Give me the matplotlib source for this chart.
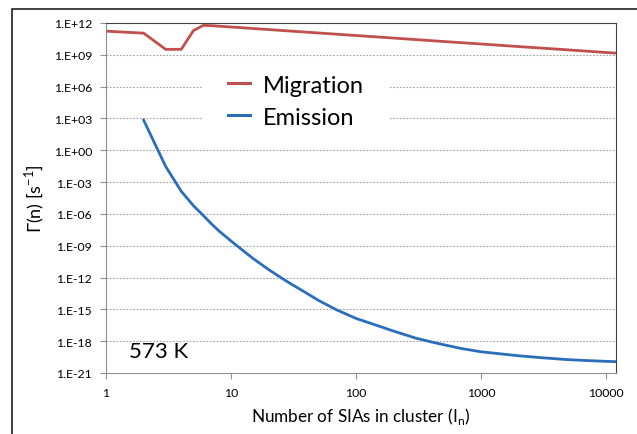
import matplotlib.pyplot as plt
from matplotlib.patches import Rectangle
from matplotlib.ticker import FixedLocator, NullLocator

plt.rcParams['font.family'] = ['Lato', 'DejaVu Sans']

# cluster size n and rates
mig_n = [1, 2, 3, 4, 5, 6, 7, 8, 10, 20, 50, 100, 200, 500, 1000, 2000, 5000, 10000, 12000]
mig_rate = [1.7e11, 1.1e11, 3.3e9, 3.3e9, 1.9e11, 6.0e11, 5.6e11, 5.0e11, 4.2e11,
            2.4e11, 1.15e11, 6.6e10, 3.8e10, 1.8e10, 1.05e10, 6.0e9, 2.9e9, 1.66e9, 1.45e9]

emi_n = [2, 3, 4, 5, 6, 7, 8, 9, 10, 12, 15, 20, 25, 30, 40, 50, 70, 100, 150, 200,
         300, 400, 500, 700, 1000, 2000, 3000, 5000, 7000, 10000, 12000]
emi_rate = [7.0e2, 3.0e-2, 1.35e-4, 6.0e-6, 7.1e-7, 1.1e-7, 2.5e-8, 7.9e-9, 2.8e-9, 5.0e-10,
            6.3e-11, 5.6e-12, 1.0e-12, 2.6e-13, 3.5e-14, 7.1e-15, 8.9e-16, 1.4e-16, 2.8e-17,
            8.9e-18, 1.95e-18, 8.5e-19, 4.7e-19, 2.0e-19, 1.0e-19, 4.2e-20, 2.8e-20,
            1.8e-20, 1.5e-20, 1.26e-20, 1.17e-20]

ytick_vals = [1e-21, 1e-18, 1e-15, 1e-12, 1e-9, 1e-6, 1e-3, 1e0, 1e3, 1e6, 1e9, 1e12]
ytick_labels = ['1.E-21', '1.E-18', '1.E-15', '1.E-12', '1.E-09', '1.E-06',
                '1.E-03', '1.E+00', '1.E+03', '1.E+06', '1.E+09', '1.E+12']
xtick_vals = [1, 10, 100, 1000, 10000]
xtick_labels = ['1', '10', '100', '1000', '10000']

series_labels = ['Migration', 'Emission']
series_colors = ['#c0504d', '#2a6ebb']

fig = plt.figure(figsize=(6.37, 4.35), dpi=100)
ax = fig.add_axes([106 / 637, 1 - 374 / 435, 510 / 637, 350 / 435])

# outer chart frame (Excel chart area border)
fig.patches.append(Rectangle((12 / 637, -0.1), 1.2, 1.1 - 10 / 435,
                             transform=fig.transFigure, fill=False,
                             edgecolor='#202020', linewidth=1.2))

ax.plot(mig_n, mig_rate, color=series_colors[0], lw=2.0, solid_joinstyle='round')
ax.plot(emi_n, emi_rate, color=series_colors[1], lw=2.0, solid_joinstyle='round')

ax.set_xscale('log')
ax.set_yscale('log')
ax.set_xlim(1, 12000)
ax.set_ylim(1e-21, 1e12)

ax.yaxis.set_major_locator(FixedLocator(ytick_vals))
ax.yaxis.set_minor_locator(NullLocator())
ax.set_yticklabels(ytick_labels, fontsize=8.8)
ax.xaxis.set_major_locator(FixedLocator(xtick_vals))
ax.xaxis.set_minor_locator(NullLocator())
ax.set_xticklabels(xtick_labels, fontsize=8.8)
ax.tick_params(direction='out', length=4, color='#909090', pad=6)

for v in ytick_vals[1:-1]:
    ax.axhline(v, color='#a0a0a0', lw=0.8, ls=(0, (1.5, 1.5)), zorder=0)

ax.spines['left'].set_color('#909090')
ax.spines['bottom'].set_color('#909090')
ax.spines['top'].set_color('#404040')
ax.spines['right'].set_color('#404040')

ax.set_xlabel('Number of SIAs in cluster (I$_\\mathregular{n}$)', fontsize=12.3, labelpad=5)
ax.set_ylabel('$\\Gamma$(n) [s$^\\mathregular{-1}$]', fontsize=13, labelpad=5)

ax.text(0.045, 0.045, '573 K', transform=ax.transAxes, fontsize=16)

# legend drawn like the Excel one: white box hiding the grid, short line keys
ax.add_patch(Rectangle((0.190, 0.669), 0.367, 0.217, transform=ax.transAxes,
                       facecolor='white', edgecolor='none', zorder=3))
for lab, col, yy in zip(series_labels, series_colors, [0.830, 0.738]):
    ax.plot([0.239, 0.282], [yy, yy], transform=ax.transAxes, color=col, lw=2.2, zorder=4)
    ax.text(0.308, yy - 0.008, lab, transform=ax.transAxes, fontsize=17, va='center', zorder=4)

fig.savefig('out.png', dpi=100)
